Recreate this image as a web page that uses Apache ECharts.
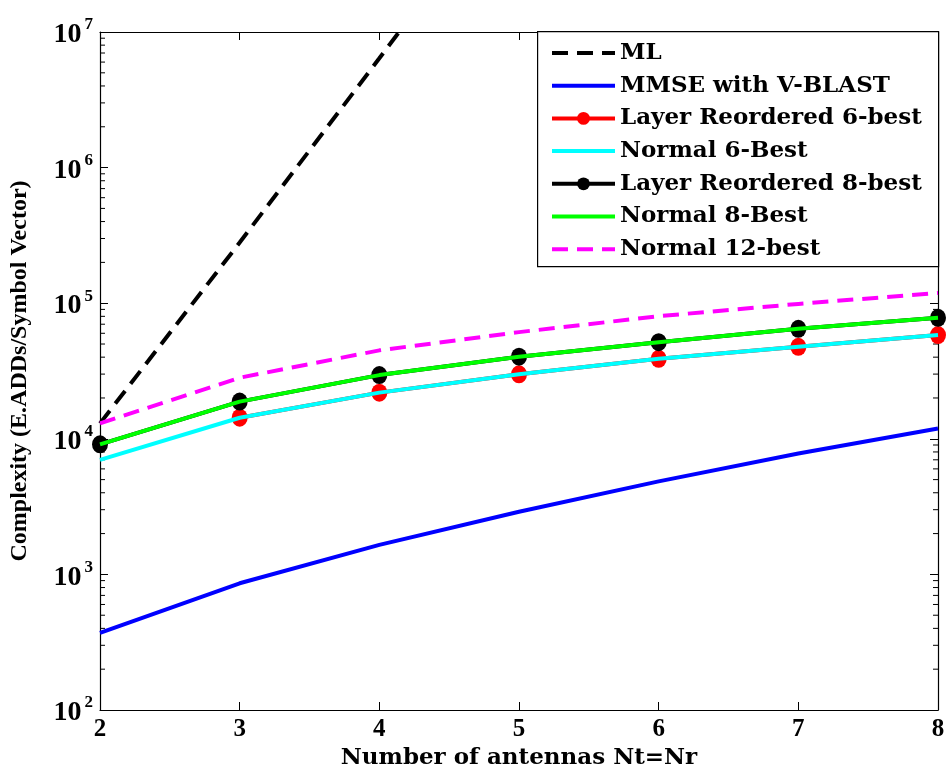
<!DOCTYPE html>
<html>
<head>
<meta charset="utf-8">
<script src="https://cdn.jsdelivr.net/npm/echarts@6/dist/echarts.min.js"></script>
<style>html,body{margin:0;padding:0;background:#fff}#c{width:946px;height:770px}</style>
</head>
<body>
<div id="c"></div>
<script>
var antennas = [2, 3, 4, 5, 6, 7, 8];
var mlValues = [13000, 280000, 6400000, 150000000, 3400000000, 79000000000, 1800000000000];
var mmseValues = [370, 860, 1650, 2900, 4850, 7800, 11900];
var lr6Values = [null, 14300, 21900, 29900, 38900, 47700, 58200];
var normal6Values = [7000, 14300, 21900, 29900, 38900, 47700, 58200];
var lr8Values = [9100, 18800, 29500, 40300, 51600, 64700, 78000];
var normal8Values = [9100, 18800, 29500, 40300, 51600, 64700, 78000];
var normal12Values = [13000, 28200, 44900, 61200, 80200, 98800, 119000];
var yTickExponents = [2, 3, 4, 5, 6, 7];
var minorMultipliers = [2, 3, 4, 5, 6, 7, 8, 9];
var seriesNames = ['ML', 'MMSE with V-BLAST', 'Layer Reordered 6-best', 'Normal 6-Best', 'Layer Reordered 8-best', 'Normal 8-Best', 'Normal 12-best'];
var hasMarker = [false, false, true, false, true, false, false];

function pairs(vals) { return antennas.map(function (x, i) { return [x, vals[i]]; }); }

var minorTickValues = [];
yTickExponents.slice(0, -1).forEach(function (e) {
  minorMultipliers.forEach(function (m) { minorTickValues.push([2, m * Math.pow(10, e)]); });
});

var FONT = 'Liberation Serif';
var WIDEFONT = 'DejaVu Serif';
var chart = echarts.init(document.getElementById('c'));

function lineSeries(name, vals, color, opts) {
  return {
    name: name, type: 'line', data: pairs(vals), clip: true,
    lineStyle: { color: color, width: 4, type: opts.dash || 'solid' },
    itemStyle: { color: color, opacity: opts.marker ? 1 : 0 },
    symbol: opts.marker ? 'circle' : 'none',
    symbolSize: opts.marker ? [16, 18] : 0,
    showSymbol: !!opts.marker,
    z: opts.z || 2,
    animation: false,
    connectNulls: false
  };
}

var option = {
  animation: false,
  backgroundColor: '#fff',
  grid: { left: 100, right: 8, top: 32, bottom: 60, show: false, containLabel: false, outerBoundsMode: 'none' },
  xAxis: [{
    type: 'value', min: 2, max: 8, interval: 1,
    name: 'Number of antennas Nt=Nr', nameLocation: 'middle', nameGap: 36,
    nameTextStyle: { fontFamily: WIDEFONT, fontWeight: 'bold', fontSize: 23, color: '#000' },
    axisLine: { show: true, onZero: false, lineStyle: { color: '#000', width: 1.2 } },
    axisTick: { show: true, inside: true, length: 8, lineStyle: { color: '#000' } },
    axisLabel: { fontFamily: FONT, fontWeight: 'bold', fontSize: 25, color: '#000', margin: 7 },
    splitLine: { show: false }
  }, {
    type: 'value', min: 2, max: 8, interval: 1, position: 'top',
    axisLine: { show: true, onZero: false, lineStyle: { color: '#000', width: 1.2 } },
    axisTick: { show: true, inside: true, length: 8, lineStyle: { color: '#000' } },
    axisLabel: { show: false }, splitLine: { show: false }
  }],
  yAxis: [{
    type: 'log', logBase: 10, min: 100, max: 10000000,
    name: 'Complexity (E.ADDs/Symbol Vector)', nameLocation: 'middle', nameGap: 68, nameRotate: 90,
    nameTextStyle: { fontFamily: FONT, fontWeight: 'bold', fontSize: 24, color: '#000' },
    axisLine: { show: true, onZero: false, lineStyle: { color: '#000', width: 1.2 } },
    axisTick: { show: true, inside: true, length: 8, lineStyle: { color: '#000' } },
    axisLabel: {
      color: '#000', margin: 7,
      formatter: function (v) {
        var e = Math.round(Math.log10(v));
        return '{b|10}{s|' + e + '}';
      },
      rich: {
        b: { fontFamily: FONT, fontWeight: 'bold', fontSize: 28, color: '#000', padding: [6, 0, 0, 0] },
        s: { fontFamily: FONT, fontWeight: 'bold', fontSize: 17, color: '#000', padding: [0, 0, 14, 3] }
      }
    },
    splitLine: { show: false }
  }, {
    type: 'log', logBase: 10, min: 100, max: 10000000, position: 'right',
    axisLine: { show: true, onZero: false, lineStyle: { color: '#000', width: 1.2 } },
    axisTick: { show: true, inside: true, length: 8, lineStyle: { color: '#000' } },
    axisLabel: { show: false }, splitLine: { show: false }
  }],
  legend: {
    orient: 'vertical', left: 550, top: 40, align: 'left',
    itemWidth: 63, itemHeight: 16, itemGap: 6.7,
    padding: 0, z: 10,
    lineStyle: { width: 4 },
    data: seriesNames.map(function (n, i) {
      return hasMarker[i] ? { name: n } : { name: n, itemStyle: { opacity: 0 } };
    }),
    textStyle: { fontFamily: WIDEFONT, fontWeight: 'bold', fontSize: 23, color: '#000', lineHeight: 26 }
  },
  graphic: [{
    type: 'rect', z: 5, left: 537, top: 31,
    shape: { width: 401, height: 235 },
    style: { fill: '#fff', stroke: '#000', lineWidth: 1.2 }
  }],
  series: [
    lineSeries(seriesNames[0], mlValues, '#000000', { dash: [16, 9], z: 2 }),
    lineSeries(seriesNames[1], mmseValues, '#0000ff', { z: 2 }),
    lineSeries(seriesNames[2], lr6Values, '#ff0000', { marker: true, z: 2 }),
    lineSeries(seriesNames[3], normal6Values, '#00ffff', { z: 3 }),
    lineSeries(seriesNames[4], lr8Values, '#000000', { marker: true, z: 4 }),
    lineSeries(seriesNames[5], normal8Values, '#00ff00', { z: 5 }),
    lineSeries(seriesNames[6], normal12Values, '#ff00ff', { dash: [16, 9], z: 6 }),
    {
      type: 'custom', name: 'minorTicks', data: minorTickValues, silent: true, z: 1,
      renderItem: function (params, api) {
        var p0 = api.coord([2, api.value(1)]);
        var p1 = api.coord([8, api.value(1)]);
        return {
          type: 'group', children: [
            { type: 'line', shape: { x1: p0[0], y1: p0[1], x2: p0[0] + 5, y2: p0[1] }, style: { stroke: '#000', lineWidth: 1 } },
            { type: 'line', shape: { x1: p1[0] - 5, y1: p1[1], x2: p1[0], y2: p1[1] }, style: { stroke: '#000', lineWidth: 1 } }
          ]
        };
      }
    }
  ]
};
chart.setOption(option);
</script>
</body>
</html>
